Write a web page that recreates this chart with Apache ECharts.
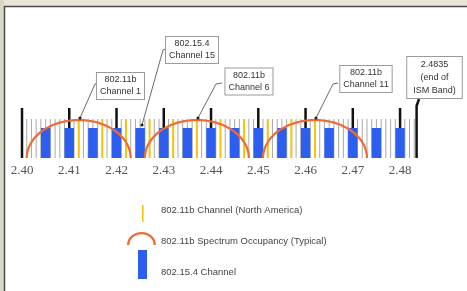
<!DOCTYPE html>
<html>
<head>
<meta charset="utf-8">
<script src="https://cdn.jsdelivr.net/npm/echarts@6/dist/echarts.min.js"></script>
<style>
  html, body { margin: 0; padding: 0; }
  #chart { width: 467px; height: 291px; }
</style>
</head>
<body>
<div id="chart"></div>
<script>
// 2.4 GHz ISM band: 802.15.4 vs 802.11b channels (GHz)
var tickLabels = ['2.40', '2.41', '2.42', '2.43', '2.44', '2.45', '2.46', '2.47', '2.48'];
var tickFreqs = [2.40, 2.41, 2.42, 2.43, 2.44, 2.45, 2.46, 2.47, 2.48];
// 1 MHz raster (MHz)
var rasterMHz = [
  2401, 2402, 2403, 2404, 2405, 2406, 2407, 2408, 2409,
  2411, 2412, 2413, 2414, 2415, 2416, 2417, 2418, 2419,
  2421, 2422, 2423, 2424, 2425, 2426, 2427, 2428, 2429,
  2431, 2432, 2433, 2434, 2435, 2436, 2437, 2438, 2439,
  2441, 2442, 2443, 2444, 2445, 2446, 2447, 2448, 2449,
  2451, 2452, 2453, 2454, 2455, 2456, 2457, 2458, 2459,
  2461, 2462, 2463, 2464, 2465, 2466, 2467, 2468, 2469,
  2471, 2472, 2473, 2474, 2475, 2476, 2477, 2478, 2479,
  2481, 2482, 2483
];
var wifiChannels = [2.412, 2.417, 2.422, 2.427, 2.432, 2.437, 2.442, 2.447, 2.452, 2.457, 2.462];
var wifiOccupied = [2.412, 2.437, 2.462];
var zigbeeChannels = [2.405, 2.410, 2.415, 2.420, 2.425, 2.430, 2.435, 2.440,
                      2.445, 2.450, 2.455, 2.460, 2.465, 2.470, 2.475, 2.480];
var bandStart = 2.40;
var bandEnd = 2.4835;

// schematic levels (drawing units)
var rasterLevel = 39;
var zigbeeLevel = 30;
var tickLevel = 50;
var arcLevel = 38;
var zigbeeHalfWidth = 0.001;
var wifiHalfWidth = 0.011;

// callouts: box centre, leader path (freq, level)
var callouts = [
  { text: '802.11b\nChannel 1', box: [2.42084, 72], path: [[2.41608, 75], [2.41545, 74], [2.41227, 40]] },
  { text: '802.15.4\nChannel 15', box: [2.43597, 108], path: [[2.43047, 109], [2.42984, 108], [2.42539, 33]] },
  { text: '802.11b\nChannel 6', box: [2.44803, 76.5], path: [[2.44232, 75], [2.44105, 74], [2.43724, 40]] },
  { text: '802.11b\nChannel 11', box: [2.47279, 79], path: [[2.46687, 75], [2.46581, 74], [2.46221, 40]] },
  { text: '2.4835\n(end of\nISM Band)', box: [2.48729, 80.5], path: [[2.48401, 59], [bandEnd, 52], [bandEnd, 0]], band: true }
];

var myChart = echarts.init(document.getElementById('chart'));

function vLine(color, width, level) {
  return function (params, api) {
    var f = api.value(0);
    var p0 = api.coord([f, 0]);
    var p1 = api.coord([f, level]);
    return {
      type: 'line',
      shape: { x1: p0[0], y1: p0[1], x2: p1[0], y2: p1[1] },
      style: { stroke: color, lineWidth: width }
    };
  };
}

var option = {
  backgroundColor: '#ebe5d9',
  animation: false,
  grid: { left: 22, right: 50.4, top: 20, bottom: 133, outerBoundsMode: 'none' },
  graphic: [
    { type: 'rect', shape: { x: 0, y: 0, width: 4, height: 291 }, style: { fill: '#dad9c6' }, silent: true, z: -10 },
    { type: 'rect', shape: { x: 5, y: 7, width: 462, height: 284 }, style: { fill: '#ffffff' }, silent: true, z: -10 },
    { type: 'line', shape: { x1: 4, y1: 6.5, x2: 467, y2: 6.5 }, style: { stroke: '#4a4a4a', lineWidth: 1.5 }, silent: true, z: -9 },
    { type: 'line', shape: { x1: 4.5, y1: 6, x2: 4.5, y2: 291 }, style: { stroke: '#4a4a4a', lineWidth: 1.5 }, silent: true, z: -9 }
  ],
  legend: [
    {
      data: [{ name: '802.11b Channel (North America)', icon: 'path://M0,0 M0,7L1.6,7L1.6,24L0,24Z M14,0' }],
      left: 142, top: 198, padding: 0, itemWidth: 14, itemHeight: 24,
      selectedMode: false, itemStyle: { borderWidth: 0 },
      textStyle: { fontFamily: 'Liberation Sans', fontSize: 9.5, color: '#444' }
    },
    {
      data: [{ name: '802.11b Spectrum Occupancy (Typical)', icon: 'path://M0,13 A14.5,13 0 0 1 29,13 L26.6,13 A12.1,10.8 0 0 0 2.4,13 Z M29,19.5' }],
      left: 127, top: 232, padding: 0, itemWidth: 29, itemHeight: 19.5,
      selectedMode: false, itemStyle: { borderWidth: 0 },
      textStyle: { fontFamily: 'Liberation Sans', fontSize: 9.5, color: '#444' }
    },
    {
      data: [{ name: '802.15.4 Channel', icon: 'path://M0,0L9,0L9,29L0,29Z M18,44' }],
      left: 138, top: 250, padding: 0, itemWidth: 18, itemHeight: 44,
      selectedMode: false, itemStyle: { borderWidth: 0 },
      textStyle: { fontFamily: 'Liberation Sans', fontSize: 9.5, color: '#444' }
    }
  ],
  xAxis: {
    type: 'value',
    min: bandStart,
    max: bandEnd,
    interval: 0.01,
    axisLine: { show: false },
    axisTick: { show: false },
    splitLine: { show: false },
    axisLabel: {
      showMaxLabel: false,
      margin: 6,
      fontFamily: 'Liberation Serif',
      fontSize: 13,
      color: '#555',
      formatter: function (v) {
        for (var i = 0; i < tickFreqs.length; i++) {
          if (Math.abs(tickFreqs[i] - v) < 1e-6) return tickLabels[i];
        }
        return '';
      }
    }
  },
  yAxis: { type: 'value', min: 0, max: 138, show: false },
  series: [
    {
      name: 'raster',
      type: 'custom',
      z: 1,
      silent: true,
      renderItem: vLine('#a9a9a9', 1, rasterLevel),
      data: rasterMHz.map(function (m) { return [m / 1000, rasterLevel]; })
    },
    {
      name: '802.11b Channel (North America)',
      type: 'custom',
      z: 2,
      itemStyle: { color: '#f7c40a' },
      renderItem: vLine('#f7c40a', 2, rasterLevel),
      data: wifiChannels.map(function (f) { return [f, rasterLevel]; })
    },
    {
      name: 'ticks',
      type: 'custom',
      z: 3,
      silent: true,
      renderItem: vLine('#111', 2.5, tickLevel),
      data: tickFreqs.map(function (f) { return [f, tickLevel]; })
    },
    {
      name: '802.15.4 Channel',
      type: 'custom',
      z: 4,
      itemStyle: { color: '#2c5ff0' },
      renderItem: function (params, api) {
        var f = api.value(0);
        var a = api.coord([f - zigbeeHalfWidth, api.value(1)]);
        var b = api.coord([f + zigbeeHalfWidth, 0]);
        return {
          type: 'rect',
          shape: { x: a[0], y: a[1], width: b[0] - a[0], height: b[1] - a[1] },
          style: { fill: '#2c5ff0' }
        };
      },
      data: zigbeeChannels.map(function (f) { return [f, zigbeeLevel]; })
    },
    {
      name: '802.11b Spectrum Occupancy (Typical)',
      type: 'custom',
      z: 5,
      itemStyle: { color: '#f06a35' },
      renderItem: function (params, api) {
        var f = api.value(0);
        var c = api.coord([f, 0]);
        var l = api.coord([f - wifiHalfWidth, 0]);
        var t = api.coord([f, api.value(1)]);
        var rx = c[0] - l[0], ry = c[1] - t[1];
        var pts = [];
        for (var i = 0; i <= 48; i++) {
          var a = Math.PI * i / 48;
          pts.push([c[0] - rx * Math.cos(a), c[1] - ry * Math.sin(a)]);
        }
        return {
          type: 'polyline',
          shape: { points: pts },
          style: { stroke: '#f06a35', lineWidth: 2.2, fill: null }
        };
      },
      data: wifiOccupied.map(function (f) { return [f, arcLevel]; })
    },
    {
      name: 'callouts',
      type: 'custom',
      z: 6,
      silent: true,
      clip: false,
      renderItem: function (params, api) {
        var c = callouts[params.dataIndex];
        var pts = c.path.map(function (p) { return api.coord(p); });
        var children = [
          {
            type: 'polyline',
            shape: { points: pts },
            style: { stroke: c.band ? '#111' : '#444', lineWidth: c.band ? 2.5 : 0.8, fill: null }
          }
        ];
        if (!c.band) {
          var e = pts[pts.length - 1];
          children.push({ type: 'circle', shape: { cx: e[0], cy: e[1], r: 1.6 }, style: { fill: '#222' } });
        }
        var bp = api.coord(c.box);
        children.push({
          type: 'text',
          x: bp[0],
          y: bp[1],
          style: {
            text: c.text,
            fill: '#333',
            font: '9px "Liberation Sans"',
            align: 'center',
            verticalAlign: 'middle',
            lineHeight: c.band ? 13 : 12,
            backgroundColor: '#fff',
            borderColor: '#9a9a9a',
            borderWidth: 1,
            padding: c.band ? [1, 6, 1, 6] : [1, 3, 1, 3]
          }
        });
        return { type: 'group', children: children };
      },
      data: callouts.map(function (c) { return c.box; })
    }
  ]
};
myChart.setOption(option);
</script>
</body>
</html>
